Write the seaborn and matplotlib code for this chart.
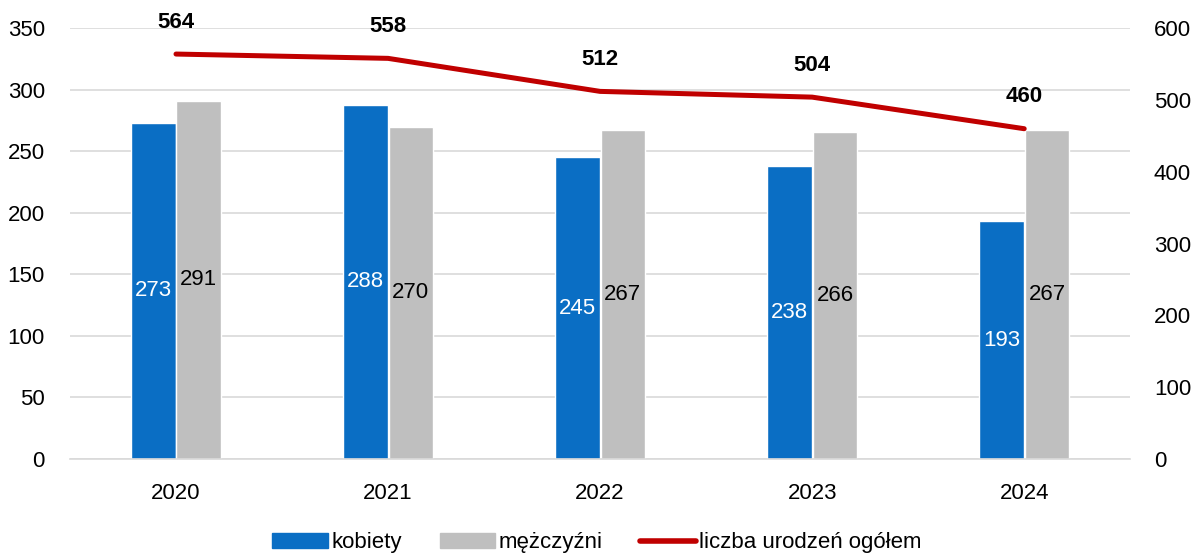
import matplotlib.pyplot as plt
import matplotlib.patches as mpatches
import matplotlib.lines as mlines
import seaborn as sns
import numpy as np
import pandas as pd

years = ['2020', '2021', '2022', '2023', '2024']
kobiety = [273, 288, 245, 238, 193]
mezczyzni = [291, 270, 267, 266, 267]
ogolem = [564, 558, 512, 504, 460]

BLUE = '#0A6EC4'
GRAY = '#BFBFBF'
RED = '#C00000'

sns.set_style('white')
plt.rcParams['font.family'] = ['Liberation Sans', 'DejaVu Sans']
plt.rcParams['text.color'] = 'black'
plt.rcParams['xtick.color'] = 'black'
plt.rcParams['ytick.color'] = 'black'

df = pd.DataFrame({'rok': years * 2,
                   'plec': ['kobiety'] * 5 + ['mężczyźni'] * 5,
                   'liczba': kobiety + mezczyzni})

fig = plt.figure(figsize=(11.94, 5.53), dpi=100)
ax = fig.add_axes([0.0586, 0.17, 0.888, 0.779])

sns.barplot(data=df, x='rok', y='liczba', hue='plec', palette=[BLUE, GRAY],
            width=0.43, gap=0.02, ax=ax, legend=False, saturation=1)

# labels inside bars
for cont, col in zip(ax.containers, ['white', 'black']):
    ax.bar_label(cont, label_type='center', color=col, fontsize=16)

ax.set_ylim(0, 350)
ax.set_yticks(range(0, 351, 50))
ax.set_xlim(-0.5, 4.5)
ax.set_xlabel('')
ax.set_ylabel('')
ax.grid(axis='y', color='#D9D9D9', linewidth=1.2)
ax.set_axisbelow(True)
for s in ['top', 'right', 'left']:
    ax.spines[s].set_visible(False)
ax.spines['bottom'].set_color('#D9D9D9')
ax.spines['bottom'].set_linewidth(1.2)
ax.tick_params(axis='y', length=0, labelsize=16, pad=18)
ax.tick_params(axis='x', length=0, labelsize=16, pad=17)

ax2 = ax.twinx()
sns.lineplot(x=np.arange(len(years)), y=ogolem, color=RED, linewidth=3.6,
             ax=ax2, solid_capstyle='round')
ax2.set_ylim(0, 600)
ax2.set_yticks(range(0, 601, 100))
ax2.tick_params(axis='y', length=0, labelsize=16, pad=17)
for s in ax2.spines.values():
    s.set_visible(False)
for i, v in enumerate(ogolem):
    ax2.annotate(str(v), (i, v), xytext=(0, 23), textcoords='offset points',
                 ha='center', va='center', fontsize=16, fontweight='bold')

handles = [mpatches.Patch(color=BLUE, label='kobiety'),
           mpatches.Patch(color=GRAY, label='mężczyźni'),
           mlines.Line2D([], [], color=RED, linewidth=4, solid_capstyle='round',
                         label='liczba urodzeń ogółem')]
fig.legend(handles=handles, loc='lower center', bbox_to_anchor=(0.5, -0.037),
           ncol=3, frameon=False, handlelength=2.5, handleheight=0.65,
           columnspacing=1.7, handletextpad=0.15, fontsize=16)

fig.savefig('out.png', dpi=100)
